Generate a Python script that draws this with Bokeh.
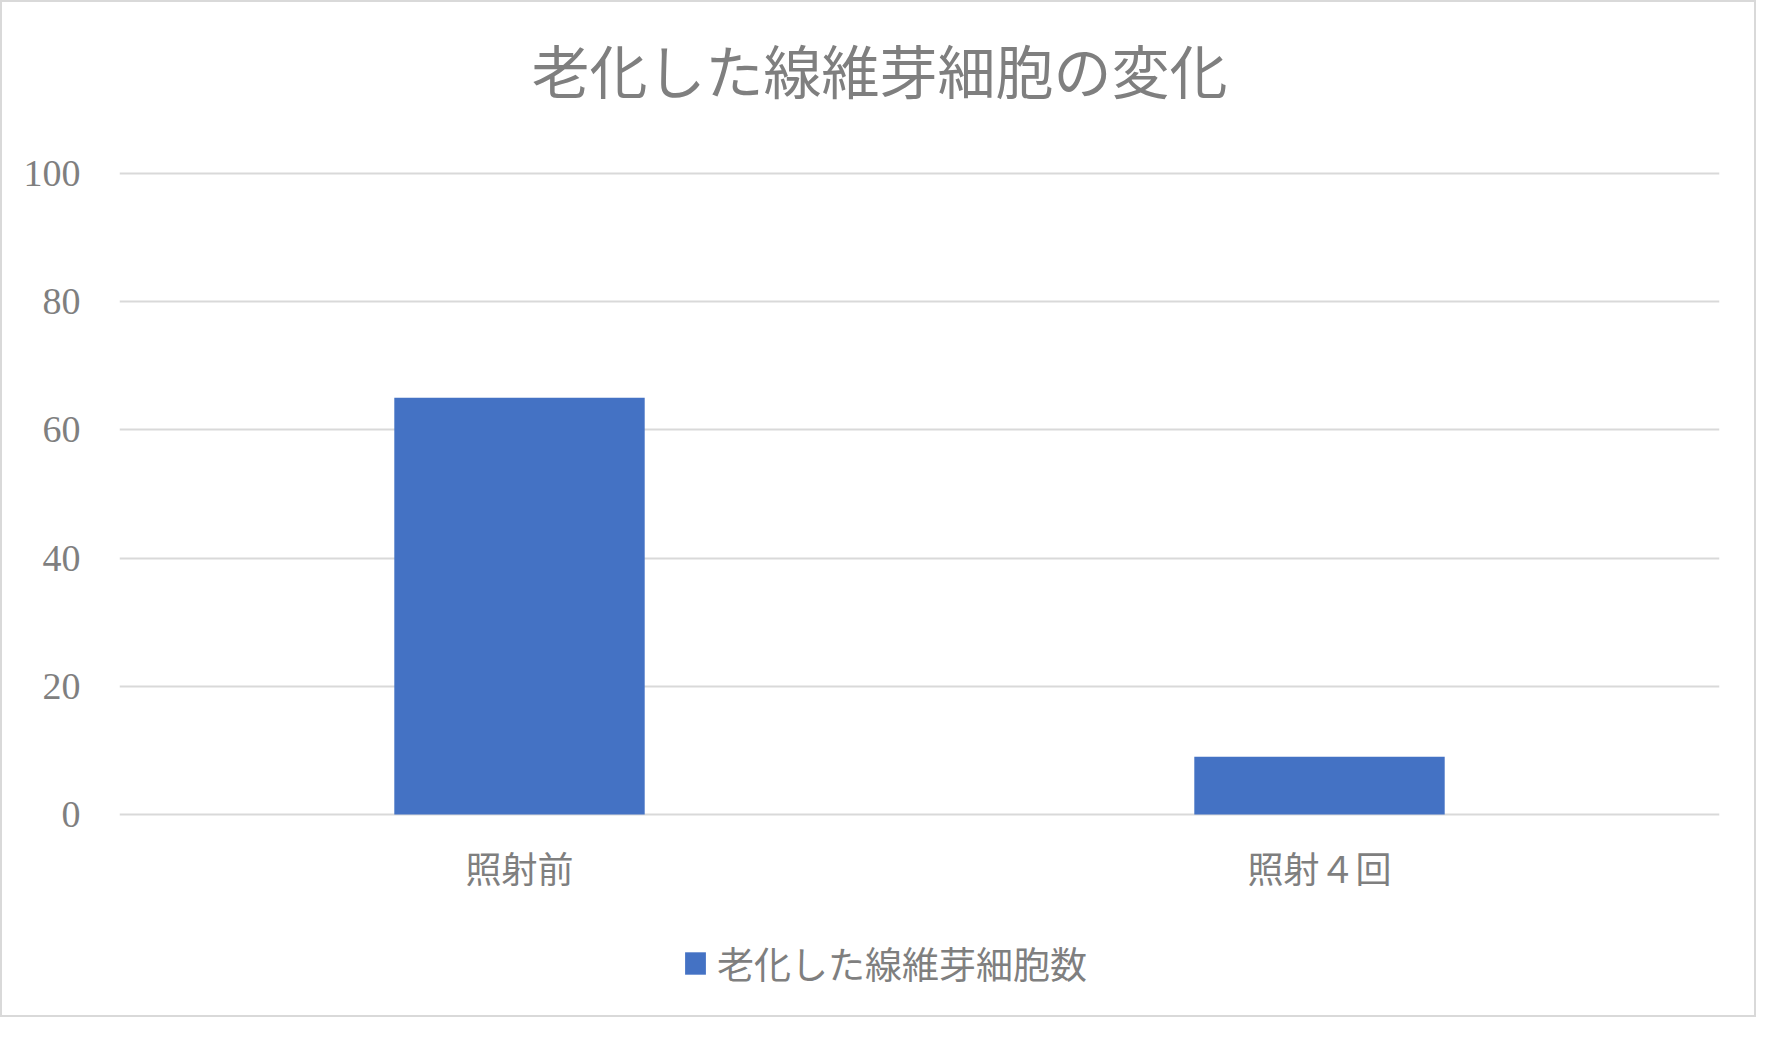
from bokeh.core.properties import value
from bokeh.embed import file_html
from bokeh.models import FactorRange, Legend, LegendItem
from bokeh.plotting import figure
from bokeh.resources import INLINE

categories = ["照射前", "照射４回"]
counts = [65, 9]
y_ticks = [0, 20, 40, 60, 80, 100]
series_name = "老化した線維芽細胞数"
title = "老化した線維芽細胞の変化"

FONT = "'Liberation Serif', 'Noto Sans CJK JP'"
GREY = "#7f7f7f"

W, H = 1756, 1017
top_px, zero_px = 171, 812          # where 100 and 0 sit on the canvas
per = (zero_px - top_px) / 100.0    # pixels per unit
y_lo = -(H - zero_px) / per
y_hi = 100 + top_px / per

p = figure(x_range=FactorRange(*categories, range_padding=0), y_range=(y_lo, y_hi),
           width=W, height=H, output_backend="svg", toolbar_location=None,
           min_border_left=117, min_border_right=39, min_border_top=0, min_border_bottom=0)
p.styles = {"border": "2px solid #d9d9d9"}
p.outline_line_color = None

bars = p.vbar(x=categories, top=counts, width=0.313, fill_color="#4472c4", line_color=None)

# title and category labels drawn as text inside the frame
p.text(x=[(categories[0], 0.45)], y=[100 + (top_px - 72) / per], text=[title],
       text_font=value(FONT), text_font_size="58px", text_color=GREY,
       text_align="center", text_baseline="middle")
p.text(x=categories, y=[-(868 - zero_px) / per] * len(categories), text=categories,
       text_font=value(FONT), text_font_size="36px", text_color=GREY,
       text_align="center", text_baseline="middle")

p.xgrid.grid_line_color = None
p.ygrid.grid_line_color = "#d9d9d9"
p.ygrid.grid_line_width = 2
p.yaxis.ticker = y_ticks
p.xaxis.visible = False

p.yaxis.axis_line_color = None
p.yaxis.major_tick_line_color = None
p.yaxis.minor_tick_line_color = None
p.yaxis.major_tick_in = 0
p.yaxis.major_tick_out = 0
p.yaxis.major_label_text_font = FONT
p.yaxis.major_label_text_color = GREY
p.yaxis.major_label_text_font_size = "38px"
p.yaxis.major_label_standoff = 39

legend = Legend(items=[LegendItem(label=series_name, renderers=[bars])],
                location=(563, 29), orientation="horizontal",
                glyph_width=26, glyph_height=28, label_standoff=9,
                padding=0, margin=0, border_line_color=None,
                background_fill_alpha=0,
                label_text_font=FONT, label_text_font_size="37px",
                label_text_color=GREY)
p.add_layout(legend)

open("out.html", "w").write(file_html(p, INLINE))
